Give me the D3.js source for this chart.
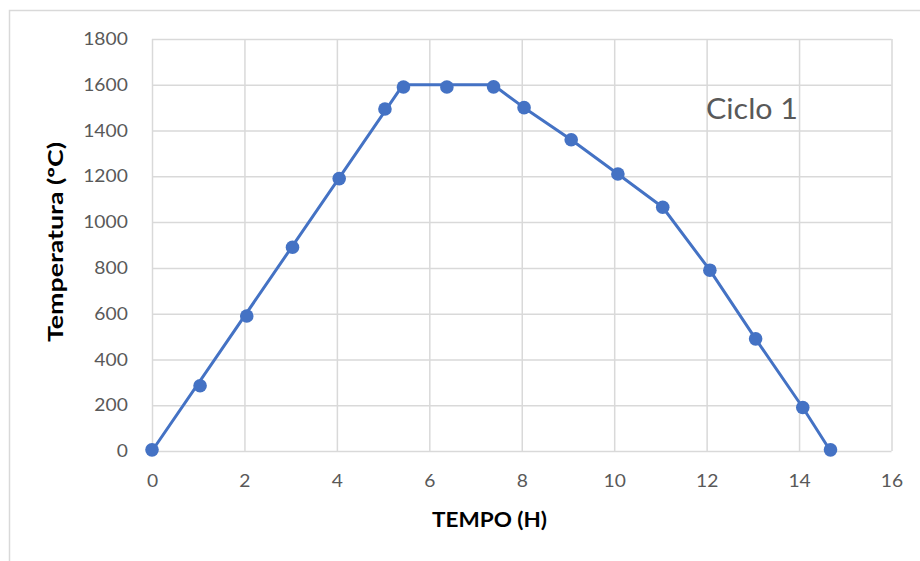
<!DOCTYPE html>
<html>
<head>
<meta charset="utf-8">
<script src="https://cdn.jsdelivr.net/npm/d3@7"></script>
<style>
  html, body { margin: 0; padding: 0; background: #fff; }
  svg { display: block; }
</style>
</head>
<body>
<svg id="chart" width="920" height="561"></svg>
<script>
// ---- data ----
const xTicks = [0, 2, 4, 6, 8, 10, 12, 14, 16];
const yTicks = [0, 200, 400, 600, 800, 1000, 1200, 1400, 1600, 1800];
// measured points (markers)
const pointTime = [0, 1.04, 2.05, 3.04, 4.05, 5.04, 5.44, 6.38, 7.39, 8.05, 9.07, 10.08, 11.05, 12.07, 13.06, 14.08, 14.68];
const pointTemp = [5, 285, 590, 890, 1190, 1494, 1590, 1590, 1591, 1500, 1360, 1210, 1065, 790, 490, 190, 5];
// connecting profile line
const lineTime = [0, 5.43, 7.38, 8.05, 9.07, 10.08, 11.05, 12.07, 13.06, 14.08, 14.68];
const lineTemp = [0, 1600, 1600, 1500, 1360, 1210, 1065, 790, 490, 190, 0];
const xTitle = "TEMPO (H)";
const yTitle = "Temperatura (ºC)";
const annotation = "Ciclo 1";

// ---- layout ----
const svg = d3.select("#chart");
const pLeft = 152, pRight = 891.5, pTop = 39, pBottom = 451;
const x = d3.scaleLinear().domain([0, 16]).range([pLeft, pRight]);
const y = d3.scaleLinear().domain([0, 1800]).range([pBottom, pTop]);
const grid = "#d9d9d9";
const textGray = "#595959";
const blue = "#4472c4";
const sx = 1.1;
const font = "Lato, 'Open Sans', sans-serif";

// outer chart border
svg.append("rect").attr("x", 9.5).attr("y", 10.5).attr("width", 1000).attr("height", 1000)
  .attr("fill", "none").attr("stroke", grid).attr("stroke-width", 1.5);

// y axis + horizontal grid
const gy = svg.append("g").attr("transform", `translate(${pLeft},0)`)
  .call(d3.axisLeft(y).tickValues(yTicks).tickSize(-(pRight - pLeft)).tickPadding(22).tickFormat(d3.format("d")));
gy.select(".domain").remove();
gy.selectAll(".tick line").attr("stroke", grid).attr("stroke-width", 1.5);
gy.selectAll(".tick text").attr("fill", textGray).attr("font-family", font)
  .attr("font-size", 17.5).attr("transform", `scale(${sx},1)`);

// x axis + vertical grid
const gx = svg.append("g").attr("transform", `translate(0,${pBottom})`)
  .call(d3.axisBottom(x).tickValues(xTicks).tickSize(-(pBottom - pTop)).tickPadding(24).tickFormat(d3.format("d")));
gx.select(".domain").remove();
gx.selectAll(".tick line").attr("stroke", grid).attr("stroke-width", 1.5);
gx.selectAll(".tick text").attr("fill", textGray).attr("font-family", font)
  .attr("font-size", 17.5).attr("transform", `scale(${sx},1)`);

// line
const lineData = lineTime.map((t, i) => [t, lineTemp[i]]);
svg.append("path").datum(lineData)
  .attr("fill", "none").attr("stroke", blue).attr("stroke-width", 3).attr("stroke-linejoin", "round")
  .attr("d", d3.line().x(d => x(d[0])).y(d => y(d[1])));

// markers
const pts = pointTime.map((t, i) => [t, pointTemp[i]]);
svg.append("g").selectAll("circle").data(pts).join("circle")
  .attr("cx", d => x(d[0])).attr("cy", d => y(d[1])).attr("r", 6.8).attr("fill", blue);

// titles
svg.append("text").attr("x", 489.5).attr("y", 527)
  .attr("text-anchor", "middle").attr("font-family", font)
  .attr("font-weight", "bold").attr("font-size", 20).attr("fill", "#000")
  .attr("textLength", 115).attr("lengthAdjust", "spacingAndGlyphs").text(xTitle);

svg.append("text").attr("transform", "translate(62.5,242) rotate(-90)")
  .attr("text-anchor", "middle").attr("font-family", font)
  .attr("font-weight", "bold").attr("font-size", 21).attr("fill", "#000")
  .attr("textLength", 200).attr("lengthAdjust", "spacingAndGlyphs").text(yTitle);

// annotation
svg.append("text").attr("x", 706).attr("y", 119)
  .attr("font-family", font).attr("font-size", 29).attr("fill", textGray)
  .attr("textLength", 92).attr("lengthAdjust", "spacingAndGlyphs").text(annotation);
</script>
</body>
</html>
